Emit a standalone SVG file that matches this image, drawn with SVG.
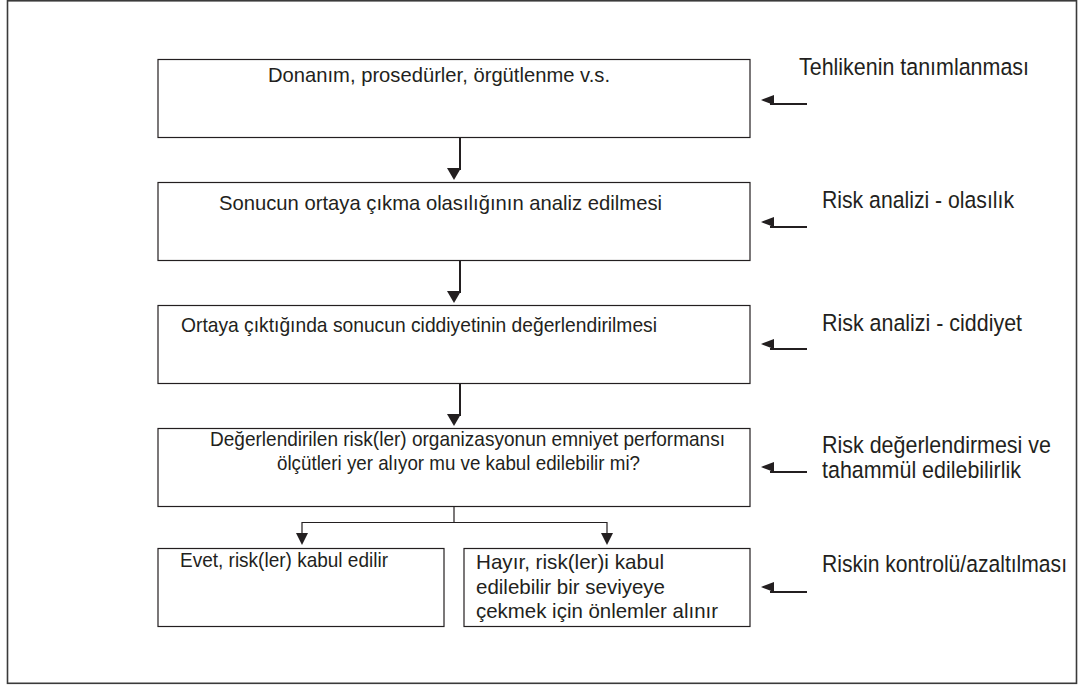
<svg xmlns="http://www.w3.org/2000/svg" width="1081" height="686" viewBox="0 0 1081 686">
  <defs>
    <style>
      .box { fill: #ffffff; stroke: #231f20; stroke-width: 1.2; }
      .frame { fill: #ffffff; stroke: #3a3a3a; stroke-width: 1.6; }
      .txt { font-family: "Liberation Sans", Arial, sans-serif; font-size: 20.8px; fill: #231f20; }
      .txt-lg { font-family: "Liberation Sans", Arial, sans-serif; font-size: 21px; fill: #231f20; }
      .lbl { font-family: "Liberation Sans", Arial, sans-serif; font-size: 24.5px; fill: #231f20; }
      .flow { fill: none; stroke: #231f20; stroke-width: 2; }
      .branch { fill: none; stroke: #231f20; stroke-width: 1.2; }
      .head { fill: #231f20; stroke: none; }
    </style>
  </defs>

  <!-- outer frame -->
  <rect class="frame" x="7.5" y="0.8" width="1069" height="682.5"/>

  <!-- process steps -->
  <g id="step-hazard">
    <rect class="box" x="158" y="59.5" width="592" height="78"/>
    <text class="txt" x="268" y="82" textLength="342" lengthAdjust="spacingAndGlyphs">Donanım, prosedürler, örgütlenme v.s.</text>
  </g>
  <g id="step-probability">
    <rect class="box" x="158" y="182.5" width="592" height="78"/>
    <text class="txt" x="219" y="210" textLength="443" lengthAdjust="spacingAndGlyphs">Sonucun ortaya çıkma olasılığının analiz edilmesi</text>
  </g>
  <g id="step-severity">
    <rect class="box" x="158" y="305.5" width="592" height="78"/>
    <text class="txt" x="181" y="332" textLength="476" lengthAdjust="spacingAndGlyphs">Ortaya çıktığında sonucun ciddiyetinin değerlendirilmesi</text>
  </g>
  <g id="step-assessment">
    <rect class="box" x="158" y="428.5" width="592" height="78"/>
    <text class="txt" x="210" y="446" textLength="515" lengthAdjust="spacingAndGlyphs">Değerlendirilen risk(ler) organizasyonun emniyet performansı</text>
    <text class="txt" x="277" y="470" textLength="363" lengthAdjust="spacingAndGlyphs">ölçütleri yer alıyor mu ve kabul edilebilir mi?</text>
  </g>
  <g id="step-accept">
    <rect class="box" x="158" y="548.5" width="286" height="78"/>
    <text class="txt" x="180" y="567" textLength="208" lengthAdjust="spacingAndGlyphs">Evet, risk(ler) kabul edilir</text>
  </g>
  <g id="step-mitigate">
    <rect class="box" x="464" y="548.5" width="286" height="78"/>
    <text class="txt-lg" x="476" y="569" textLength="188" lengthAdjust="spacingAndGlyphs">Hayır, risk(ler)i kabul</text>
    <text class="txt-lg" x="476" y="594" textLength="189" lengthAdjust="spacingAndGlyphs">edilebilir bir seviyeye</text>
    <text class="txt-lg" x="476" y="618" textLength="242" lengthAdjust="spacingAndGlyphs">çekmek için önlemler alınır</text>
  </g>

  <!-- phase labels -->
  <g id="label-identification">
    <text class="lbl" x="799" y="75" textLength="230" lengthAdjust="spacingAndGlyphs">Tehlikenin tanımlanması</text>
  </g>
  <g id="label-probability">
    <text class="lbl" x="822" y="208" textLength="192" lengthAdjust="spacingAndGlyphs">Risk analizi - olasılık</text>
  </g>
  <g id="label-severity">
    <text class="lbl" x="822" y="331" textLength="200" lengthAdjust="spacingAndGlyphs">Risk analizi - ciddiyet</text>
  </g>
  <g id="label-tolerability">
    <text class="lbl" x="822" y="453" textLength="229" lengthAdjust="spacingAndGlyphs">Risk değerlendirmesi ve</text>
    <text class="lbl" x="822" y="478" textLength="199" lengthAdjust="spacingAndGlyphs">tahammül edilebilirlik</text>
  </g>
  <g id="label-control">
    <text class="lbl" x="822" y="572" textLength="245" lengthAdjust="spacingAndGlyphs">Riskin kontrolü/azaltılması</text>
  </g>

  <!-- connectors -->
  <g id="connectors">
    <!-- vertical flow between steps -->
    <path class="flow" d="M460 137.5 V170"/>
    <polygon class="head" points="447,168 461,168 454,180"/>
    <path class="flow" d="M460 260.5 V293"/>
    <polygon class="head" points="447,291 461,291 454,303"/>
    <path class="flow" d="M460 383.5 V416"/>
    <polygon class="head" points="447,414 461,414 454,426"/>

    <!-- decision branch -->
    <path class="branch" d="M454 506.5 V522.5 M302 522.5 H607 M302 522 V534 M607 522 V534"/>
    <polygon class="head" points="296,533 308,533 302,545"/>
    <polygon class="head" points="601,533 613,533 607,545"/>

    <!-- pointers from phase labels to steps -->
    <path class="flow" d="M770 104 H807"/>
    <polygon class="head" points="761,100 774,95 774,105"/>
    <path class="flow" d="M770 227 H807"/>
    <polygon class="head" points="761,222 774,217 774,227"/>
    <path class="flow" d="M770 349 H807"/>
    <polygon class="head" points="761,344 774,339 774,349"/>
    <path class="flow" d="M770 472 H807"/>
    <polygon class="head" points="761,467 774,462 774,472"/>
    <path class="flow" d="M770 592 H807"/>
    <polygon class="head" points="761,587 774,582 774,592"/>
  </g>
</svg>
